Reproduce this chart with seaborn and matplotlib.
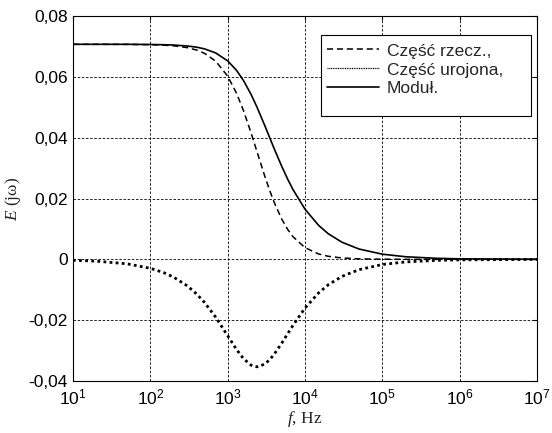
import seaborn as sns
import pandas as pd
import matplotlib.pyplot as plt
from matplotlib.patches import Rectangle

# frequency points, Hz
freq = [10, 20, 50, 100, 150, 200, 300, 400, 500, 700, 1000, 1300, 1600, 2000,
        2400, 3000, 3500, 4000, 5000, 6000, 7000, 1e4, 1.5e4, 2e4, 3e4, 5e4,
        1e5, 2e5, 5e5, 1e6, 1e7]
real_part = [0.0707, 0.0707, 0.07067, 0.07058, 0.07042, 0.07021, 0.06961, 0.06879,
             0.06776, 0.06516, 0.06024, 0.05466, 0.04895, 0.04172, 0.03535, 0.02759,
             0.02261, 0.01871, 0.01324, 0.00975, 0.00744, 0.00385, 0.00177, 0.00100,
             0.00045, 0.00016, 0.00004, 0.00001, 0.0, 0.0, 0.0]
imag_part = [-0.0003, -0.0006, -0.00147, -0.00294, -0.0044, -0.00585, -0.0087,
             -0.01147, -0.01412, -0.01901, -0.0251, -0.02961, -0.03263, -0.03477,
             -0.03535, -0.03449, -0.03297, -0.03119, -0.02758, -0.02438, -0.02169,
             -0.01604, -0.01103, -0.00836, -0.00562, -0.00339, -0.0017, -0.00085,
             -0.00034, -0.00017, -0.00002]
modulus = [0.0707, 0.0707, 0.0707, 0.07064, 0.07056, 0.07046, 0.07015, 0.06974,
           0.06921, 0.06787, 0.06526, 0.06217, 0.05883, 0.05432, 0.05, 0.04417,
           0.03998, 0.03637, 0.0306, 0.02626, 0.02293, 0.0165, 0.01117, 0.00842,
           0.00564, 0.00339, 0.0017, 0.00085, 0.00034, 0.00017, 0.00002]

labels = ['Część rzecz.,', 'Część urojona,', 'Moduł.']
y_ticks = [-0.04, -0.02, 0, 0.02, 0.04, 0.06, 0.08]

df = pd.DataFrame({'f': freq, labels[0]: real_part, labels[1]: imag_part, labels[2]: modulus})
df = df.melt(id_vars='f', var_name='series', value_name='E')

sns.set_style('white')
plt.rcParams['font.family'] = ['Liberation Sans', 'DejaVu Sans']
plt.rcParams['mathtext.fontset'] = 'custom'
plt.rcParams['mathtext.rm'] = 'Liberation Sans'
plt.rcParams['mathtext.it'] = 'Liberation Serif:italic'

fig = plt.figure(figsize=(5.52, 4.33), dpi=100)
ax = fig.add_axes([0.1322, 0.1201, 0.8406, 0.8429])

styles = {labels[0]: (0, (4, 2.5)), labels[1]: (0, (1, 1.2)), labels[2]: '-'}
widths = {labels[0]: 1.1, labels[1]: 2.0, labels[2]: 1.2}
for name in labels:
    sub = df[df['series'] == name]
    sns.lineplot(data=sub, x='f', y='E', ax=ax, color='black', label=name,
                 linestyle=styles[name], linewidth=widths[name])

ax.set_xscale('log')
ax.set_xlim(10, 1e7)
ax.set_ylim(-0.04, 0.08)
ax.set_yticks(y_ticks)
ax.set_yticklabels([('%.2f' % v).replace('.', ',') if v != 0 else '0' for v in y_ticks])
ax.xaxis.set_minor_locator(plt.NullLocator())
ax.tick_params(direction='in', length=3, labelsize=12.5, top=True, right=True,
               color='black', labelcolor='black')
ax.tick_params(axis='x', pad=5)
ax.grid(True, color='black', linestyle=(0, (3, 2)), linewidth=0.6)
for s in ax.spines.values():
    s.set_color('black')
    s.set_linewidth(0.8)

ax.set_xlabel('$f$, Hz', family='Liberation Serif', fontsize=12.5, labelpad=1)
ax.set_ylabel('$E$ (jω)', family='Liberation Serif', fontsize=12.5, labelpad=4)

leg = ax.legend(loc='upper left', bbox_to_anchor=(0.547, 0.925), fontsize=12.5,
                frameon=False, handlelength=3.0, handletextpad=0.45,
                labelspacing=0.22, borderpad=0, borderaxespad=0)
leg.get_lines()[1].set_linewidth(0.9)
leg.get_lines()[1].set_linestyle((0, (0.8, 0.6)))
ax.add_patch(Rectangle((0.534, 0.726), 0.453, 0.222, transform=ax.transAxes,
                       facecolor='white', edgecolor='black', linewidth=0.8, zorder=4))
leg.set_zorder(5)

fig.savefig('out.png', dpi=100)
